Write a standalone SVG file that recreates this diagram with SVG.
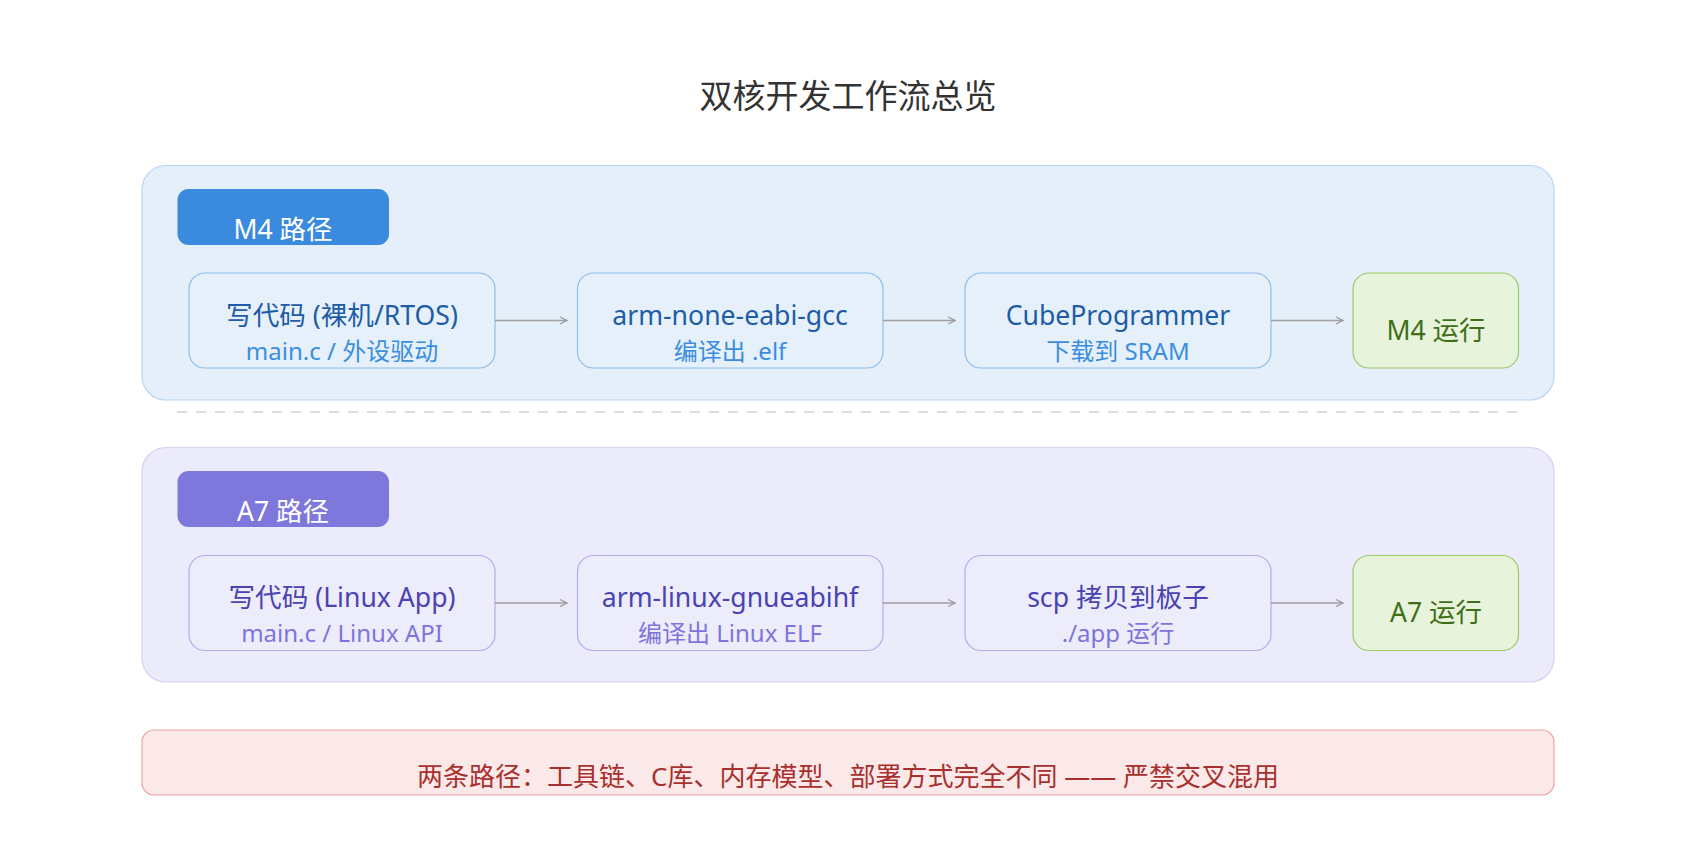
<svg xmlns="http://www.w3.org/2000/svg" width="1696" height="844" viewBox="0 0 1696 844">
<defs>
<marker id="arr" viewBox="0 0 10 10" refX="9" refY="5" markerWidth="10" markerHeight="10" markerUnits="userSpaceOnUse" orient="auto">
<path d="M2,1.5 L9,5 L2,8.5" fill="none" stroke="#9a9a9a" stroke-width="1.3"/>
</marker>
<style>
text{font-family:"Noto Sans","Noto Sans CJK SC",sans-serif;text-anchor:middle}
.title{font-size:33px;fill:#333333}
.c1{fill:#e4eff9;stroke:#b9d6f2;stroke-width:1.2}
.c2{fill:#ecebfb;stroke:#d6d2f5;stroke-width:1.2}
.p1{fill:#3a8ade}
.p2{fill:#7f78dc}
.pt{font-size:26.5px;fill:#ffffff}
.n1{fill:#e6f0fb;stroke:#8fbde9;stroke-width:1.2}
.n2{fill:#edecfb;stroke:#b3abec;stroke-width:1.2}
.ng{fill:#e8f3dc;stroke:#9ccb68;stroke-width:1.2}
.t1{font-size:26.6px;fill:#1e5ca6}
.s1{font-size:24px;fill:#3a8ee0}
.t2{font-size:26.6px;fill:#4a43b2}
.s2{font-size:24px;fill:#7d75dc}
.tg{font-size:26.5px;fill:#3e6f18}
.edge{stroke:#a0a0a0;stroke-width:1.6;fill:none;marker-end:url(#arr)}
.warn{fill:#fbe9e9;stroke:#f0a2a2;stroke-width:1.2}
.wt{font-size:26px;fill:#a8302e}
</style>
</defs>
<rect width="1696" height="844" fill="#ffffff"/>
<text class="title" x="848" y="108">双核开发工作流总览</text>

<g id="m4-lane">
<rect class="c1" x="142" y="165.5" width="1412" height="234.5" rx="24"/>
<rect class="p1" x="177.5" y="189" width="211.5" height="56" rx="11"/>
<text class="pt" x="283" y="239">M4 路径</text>
</g>

<line x1="177" y1="412" x2="1519" y2="412" stroke="#d2d2d2" stroke-width="1.5" stroke-dasharray="10 9"/>

<g id="a7-lane">
<rect class="c2" x="142" y="447.5" width="1412" height="234.5" rx="24"/>
<rect class="p2" x="177.5" y="471" width="211.5" height="56" rx="11"/>
<text class="pt" x="283" y="521">A7 路径</text>
</g>

<g id="m4-code">
<rect class="n1" x="189" y="273" width="306" height="95" rx="16"/>
<text class="t1" x="342" y="325">写代码 (裸机/RTOS)</text>
<text class="s1" x="342" y="360">main.c / 外设驱动</text>
</g>
<g id="m4-gcc">
<rect class="n1" x="577.5" y="273" width="305.5" height="95" rx="16"/>
<text class="t1" x="730" y="325">arm-none-eabi-gcc</text>
<text class="s1" x="730" y="360">编译出 .elf</text>
</g>
<g id="m4-prog">
<rect class="n1" x="965" y="273" width="306" height="95" rx="16"/>
<text class="t1" x="1118" y="325">CubeProgrammer</text>
<text class="s1" x="1118" y="360">下载到 SRAM</text>
</g>
<g id="m4-run">
<rect class="ng" x="1353" y="273" width="165.5" height="95" rx="16"/>
<text class="tg" x="1436" y="340">M4 运行</text>
</g>

<g id="a7-code">
<rect class="n2" x="189" y="555.5" width="306" height="95" rx="16"/>
<text class="t2" x="342" y="607">写代码 (Linux App)</text>
<text class="s2" x="342" y="642">main.c / Linux API</text>
</g>
<g id="a7-gcc">
<rect class="n2" x="577.5" y="555.5" width="305.5" height="95" rx="16"/>
<text class="t2" x="730" y="607">arm-linux-gnueabihf</text>
<text class="s2" x="730" y="642">编译出 Linux ELF</text>
</g>
<g id="a7-scp">
<rect class="n2" x="965" y="555.5" width="306" height="95" rx="16"/>
<text class="t2" x="1118" y="607">scp 拷贝到板子</text>
<text class="s2" x="1118" y="642">./app 运行</text>
</g>
<g id="a7-run">
<rect class="ng" x="1353" y="555.5" width="165.5" height="95" rx="16"/>
<text class="tg" x="1436" y="622">A7 运行</text>
</g>

<g id="connectors">
<line class="edge" x1="495" y1="320.5" x2="567" y2="320.5"/>
<line class="edge" x1="883" y1="320.5" x2="955" y2="320.5"/>
<line class="edge" x1="1271" y1="320.5" x2="1343" y2="320.5"/>
<line class="edge" x1="495" y1="603" x2="567" y2="603"/>
<line class="edge" x1="883" y1="603" x2="955" y2="603"/>
<line class="edge" x1="1271" y1="603" x2="1343" y2="603"/>
</g>

<g id="warning">
<rect class="warn" x="142" y="730" width="1412" height="65" rx="12"/>
<text class="wt" x="848" y="786">两条路径：工具链、C库、内存模型、部署方式完全不同 —— 严禁交叉混用</text>
</g>
</svg>
